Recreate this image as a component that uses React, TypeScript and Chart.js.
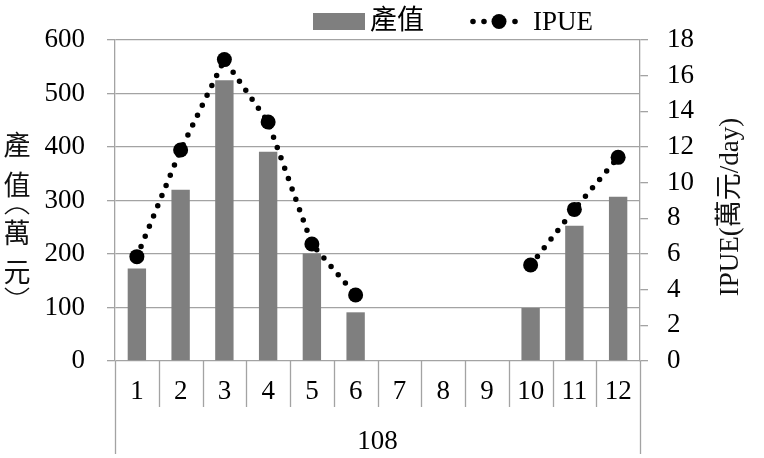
import React, { useEffect, useRef } from "react";
import Chart from "chart.js/auto";

const months = ["1", "2", "3", "4", "5", "6", "7", "8", "9", "10", "11", "12"];
const yearLabel = "108";
const outputValue = [173, 320, 525, 391, 201, 91, null, null, null, 99, 253, 307];
const ipue = [5.85, 11.83, 16.9, 13.4, 6.56, 3.7, null, null, null, 5.38, 8.5, 11.42];
const leftTicksMax = 600;
const rightTicksMax = 18;
const barName = "產值";
const lineName = "IPUE";
const leftTitleChars = ["產", "值", "(", "萬", "元", ")"];
const rightTitle = "IPUE(萬元/day)";

const FONT = "'Liberation Serif', 'Noto Sans CJK TC', serif";
const GRID = "#a3a3a3";

export default function App() {
  const ref = useRef<HTMLCanvasElement>(null);

  useEffect(() => {
    const canvas = ref.current!;
    const decor = {
      id: "decor",
      afterDraw(chart: any) {
        const ctx = chart.ctx;
        const area = chart.chartArea;
        const xs = chart.scales.x;
        ctx.save();
        // dividers under x axis
        ctx.strokeStyle = GRID;
        ctx.lineWidth = 1.3;
        const n = months.length;
        for (let i = 0; i <= n; i++) {
          let x: number;
          if (i === 0) x = area.left;
          else if (i === n) x = area.right;
          else x = (xs.getPixelForValue(i - 1) + xs.getPixelForValue(i)) / 2;
          const yEnd = i === 0 || i === n ? 454 : 407;
          ctx.beginPath();
          ctx.moveTo(Math.round(x) + 0.5, area.bottom);
          ctx.lineTo(Math.round(x) + 0.5, yEnd);
          ctx.stroke();
        }
        // group label
        ctx.fillStyle = "#000";
        ctx.font = `27px ${FONT}`;
        ctx.textAlign = "center";
        ctx.textBaseline = "middle";
        ctx.fillText(yearLabel, (area.left + area.right) / 2, 442);

        // legend
        ctx.fillStyle = "#7f7f7f";
        ctx.fillRect(313, 13, 52, 17);
        ctx.fillStyle = "#000";
        ctx.textAlign = "left";
        ctx.font = `27px ${FONT}`;
        ctx.fillText(barName, 370, 22);
        ctx.fillText(lineName, 533, 23);
        ctx.beginPath();
        [473, 484, 515].forEach((x) => {
          ctx.moveTo(x + 2.8, 21.5);
          ctx.arc(x, 21.5, 2.8, 0, Math.PI * 2);
        });
        ctx.fill();
        ctx.beginPath();
        ctx.arc(499, 21.5, 7.5, 0, Math.PI * 2);
        ctx.fill();

        // left title, stacked vertically (parentheses drawn as vertical arches)
        const ys = [148, 188, 210, 236, 275, 292];
        leftTitleChars.forEach((ch, i) => {
          const y = ys[i];
          ctx.fillStyle = "#111";
          ctx.strokeStyle = "#111";
          if (ch === "(" || ch === ")") {
            ctx.lineWidth = 1.4;
            ctx.beginPath();
            if (ch === "(") {
              ctx.moveTo(5, y + 4);
              ctx.quadraticCurveTo(17, y - 8, 29, y + 4);
            } else {
              ctx.moveTo(5, y - 4);
              ctx.quadraticCurveTo(17, y + 8, 29, y - 4);
            }
            ctx.stroke();
            return;
          }
          ctx.textAlign = "center";
          ctx.textBaseline = "middle";
          ctx.font = `27px ${FONT}`;
          ctx.fillText(ch, 17, y);
        });

        // right title
        ctx.save();
        ctx.translate(731, 207);
        ctx.rotate(-Math.PI / 2);
        ctx.textAlign = "center";
        ctx.textBaseline = "middle";
        ctx.fillStyle = "#111";
        ctx.font = `27px ${FONT}`;
        ctx.fillText(rightTitle, 0, 0);
        ctx.restore();
        ctx.restore();
      },
    };

    const chart = new Chart(canvas, {
      type: "bar",
      data: {
        labels: months,
        datasets: [
          {
            type: "line",
            label: lineName,
            data: ipue,
            yAxisID: "y1",
            borderColor: "#000",
            backgroundColor: "#000",
            borderWidth: 5.5,
            borderDash: [0, 11],
            borderCapStyle: "round",
            pointRadius: 7.5,
            pointBackgroundColor: "#000",
            pointBorderWidth: 0,
            spanGaps: false,
            tension: 0,
            order: 0,
          },
          {
            type: "bar",
            label: barName,
            data: outputValue,
            yAxisID: "y",
            backgroundColor: "#7f7f7f",
            barPercentage: 0.42,
            categoryPercentage: 1,
            order: 1,
          },
        ],
      },
      options: {
        responsive: false,
        animation: false,
        devicePixelRatio: 1,
        layout: { padding: { top: 40, left: 0, right: 0, bottom: 0 } },
        plugins: { legend: { display: false }, tooltip: { enabled: false } },
        scales: {
          x: {
            grid: { display: false, drawTicks: false },
            border: { display: false },
            ticks: { color: "#000", font: { family: FONT, size: 27 }, padding: 15, maxRotation: 0, autoSkip: false },
            afterFit: (s: any) => {
              s.height = 97;
            },
          },
          y: {
            position: "left",
            min: 0,
            max: leftTicksMax,
            ticks: { stepSize: 100, color: "#000", font: { family: FONT, size: 27 }, padding: 22 },
            grid: { color: GRID, lineWidth: 1.3, tickLength: 8 },
            border: { color: GRID, width: 1.3 },
            afterFit: (s: any) => {
              s.width = 115;
            },
          },
          y1: {
            position: "right",
            min: 0,
            max: rightTicksMax,
            ticks: { stepSize: 2, color: "#000", font: { family: FONT, size: 27 }, padding: 19 },
            grid: { color: GRID, lineWidth: 1.3, tickLength: 8, drawOnChartArea: false },
            border: { color: GRID, width: 1.3 },
            afterFit: (s: any) => {
              s.width = 124;
            },
          },
        },
      },
      plugins: [decor],
    });
    return () => chart.destroy();
  }, []);

  return (
    <div style={{ position: "fixed", left: 0, top: 0, width: 764, height: 458, background: "#fff" }}>
      <canvas ref={ref} width={764} height={458} />
    </div>
  );
}
